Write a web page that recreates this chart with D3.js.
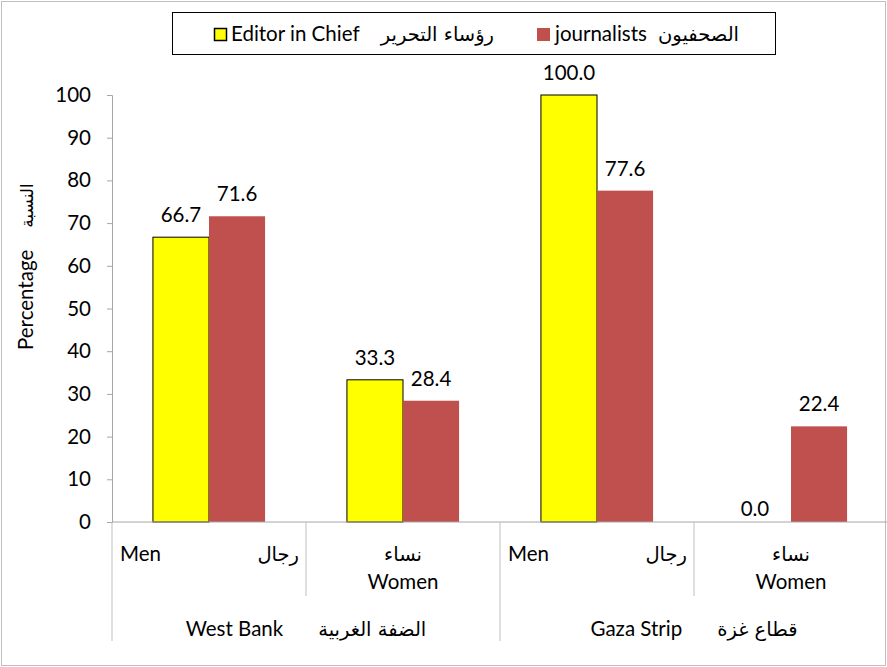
<!doctype html>
<html>

<head>
    <meta charset="utf-8">
    <title>Editors and journalists by sex</title>
    <style>
        body { margin: 0; background: #fff; }
        text { font-family: Lato, "DejaVu Sans", sans-serif; fill: #000; }
        text.ar, tspan.ar { font-family: "DejaVu Sans", sans-serif; }
    </style>
</head>

<body>
    <script src="https://d3js.org/d3.v7.min.js"></script>
    <script>
    // chart values
    var sexEn = ["Men", "Women", "Men", "Women"];
    var sexAr = ["رجال", "نساء", "رجال", "نساء"];
    var regionEn = ["West Bank", "Gaza Strip"];
    var regionAr = ["الضفة الغربية", "قطاع غزة"];
    var editorValues = [66.7, 33.3, 100.0, 0.0];
    var journalistValues = [71.6, 28.4, 77.6, 22.4];
    var yTicks = [0, 10, 20, 30, 40, 50, 60, 70, 80, 90, 100];
    var seriesKeys = ["editor", "journalists"];
    var seriesColors = { editor: "#FFFF00", journalists: "#C0504D" };

    var width = 887, height = 667;
    var margin = { top: 95, right: 0, bottom: 145, left: 112 };
    var fs = 20.5, fsAr = 19.5;

    var svg = d3.select("body")
        .append("svg")
        .attr("width", width)
        .attr("height", height);

    // outer chart border
    svg.append("rect")
        .attr("x", 1.5).attr("y", 1.5)
        .attr("width", width - 3).attr("height", height - 3)
        .attr("fill", "none")
        .attr("stroke", "#bfbfbf");

    var x0 = d3.scaleBand()
        .domain(d3.range(sexEn.length))
        .range([margin.left, width + 1])
        .padding(0);

    var x1 = d3.scaleBand()
        .domain(seriesKeys)
        .range([0, x0.bandwidth()])
        .paddingOuter(0.73)
        .paddingInner(0);

    var y = d3.scaleLinear()
        .domain([0, 100])
        .range([height - margin.bottom, margin.top]);

    // y axis
    var yAxis = svg.append("g")
        .attr("transform", "translate(" + margin.left + ",0)")
        .call(d3.axisLeft(y).tickValues(yTicks).tickSize(5).tickPadding(16));
    yAxis.select(".domain").attr("stroke", "#a6a6a6");
    yAxis.selectAll(".tick line").attr("stroke", "#a6a6a6");
    yAxis.selectAll(".tick text")
        .style("font-family", "Lato, sans-serif")
        .attr("font-size", fs);

    // y axis title (reads bottom to top)
    var yTitle = svg.append("text")
        .attr("transform", "translate(33,350) rotate(-90)")
        .attr("font-size", fs);
    yTitle.append("tspan").text("Percentage");
    yTitle.append("tspan").attr("class", "ar").attr("dx", 22)
        .attr("font-size", 17).text("النسبة");

    // bars
    var rows = editorValues.map(function (v, i) {
        return { i: i, editor: v, journalists: journalistValues[i] };
    });

    var groups = svg.append("g").selectAll("g")
        .data(rows)
        .join("g")
        .attr("transform", function (d) { return "translate(" + x0(d.i) + ",0)"; });

    groups.selectAll("rect")
        .data(function (d) { return seriesKeys.map(function (k) { return { key: k, value: d[k] }; }); })
        .join("rect")
        .filter(function (d) { return d.value > 0; })
        .attr("x", function (d) { return x1(d.key); })
        .attr("y", function (d) { return y(d.value); })
        .attr("width", x1.bandwidth())
        .attr("height", function (d) { return y(0) - y(d.value); })
        .attr("fill", function (d) { return seriesColors[d.key]; })
        .attr("stroke", function (d) { return d.key === "editor" ? "#000" : "none"; })
        .attr("stroke-width", 1);

    groups.selectAll("text.value")
        .data(function (d) { return seriesKeys.map(function (k) { return { key: k, value: d[k] }; }); })
        .join("text")
        .attr("class", "value")
        .attr("x", function (d) { return x1(d.key) + x1.bandwidth() / 2 - (d.value === 0 ? 8 : 0); })
        .attr("y", function (d) { return y(d.value) - (d.value === 0 ? 6 : 15); })
        .attr("text-anchor", "middle")
        .attr("font-size", fs)
        .text(function (d) { return d.value.toFixed(1); });

    // x axis line
    var base = y(0);
    svg.append("line")
        .attr("x1", margin.left).attr("x2", width)
        .attr("y1", base).attr("y2", base)
        .attr("stroke", "#a6a6a6");

    // category dividers: short between sexes, long between regions
    var bounds = d3.range(sexEn.length).map(function (i) { return x0(i); });
    svg.append("g").selectAll("line")
        .data(bounds)
        .join("line")
        .attr("x1", function (d) { return d; })
        .attr("x2", function (d) { return d; })
        .attr("y1", base)
        .attr("y2", function (d, i) { return i % 2 === 0 ? 641 : 596; })
        .attr("stroke", "#bfbfbf");

    // sex labels
    var sexG = svg.append("g");
    sexEn.forEach(function (s, i) {
        var left = x0(i), mid = x0(i) + x0.bandwidth() / 2, right = x0(i) + x0.bandwidth();
        if (s === "Men") {
            sexG.append("text").attr("x", left + 8).attr("y", 561)
                .attr("font-size", fs).text(s);
            sexG.append("text").attr("class", "ar").attr("x", right - 7).attr("y", 561)
                .attr("text-anchor", "end").attr("font-size", fsAr).text(sexAr[i]);
        } else {
            sexG.append("text").attr("class", "ar").attr("x", mid).attr("y", 561)
                .attr("text-anchor", "middle").attr("font-size", fsAr).text(sexAr[i]);
            sexG.append("text").attr("x", mid).attr("y", 589)
                .attr("text-anchor", "middle").attr("font-size", fs).text(s);
        }
    });

    // region labels: English and Arabic pair centred under each region
    regionEn.forEach(function (r, j) {
        var mid = x0(j * 2 + 1), gap = 35;
        var en = svg.append("text").attr("y", 636).attr("font-size", fs).text(r);
        var ar = svg.append("text").attr("class", "ar").attr("y", 636)
            .attr("font-size", fsAr).text(regionAr[j]);
        var wEn = en.node().getComputedTextLength();
        var wAr = ar.node().getComputedTextLength();
        var start = mid - (wEn + gap + wAr) / 2;
        en.attr("x", start);
        ar.attr("x", start + wEn + gap);
    });

    // legend
    var legend = svg.append("g");
    legend.append("rect")
        .attr("x", 172.5).attr("y", 12.5)
        .attr("width", 603).attr("height", 42)
        .attr("fill", "#fff").attr("stroke", "#000");

    legend.append("rect")
        .attr("x", 214.5).attr("y", 28.5).attr("width", 12).attr("height", 12)
        .attr("fill", seriesColors.editor).attr("stroke", "#000").attr("stroke-width", 1.5);
    legend.append("text").attr("x", 231).attr("y", 41).attr("font-size", fs)
        .text("Editor in Chief");
    legend.append("text").attr("class", "ar").attr("x", 494).attr("y", 41).attr("font-size", fsAr)
        .attr("text-anchor", "end").text("رؤساء التحرير");

    legend.append("rect")
        .attr("x", 537).attr("y", 28).attr("width", 13).attr("height", 13)
        .attr("fill", seriesColors.journalists);
    legend.append("text").attr("x", 555).attr("y", 41).attr("font-size", fs)
        .text("journalists");
    legend.append("text").attr("class", "ar").attr("x", 739).attr("y", 41).attr("font-size", fsAr)
        .attr("text-anchor", "end").text("الصحفيون");
    </script>
</body>

</html>
